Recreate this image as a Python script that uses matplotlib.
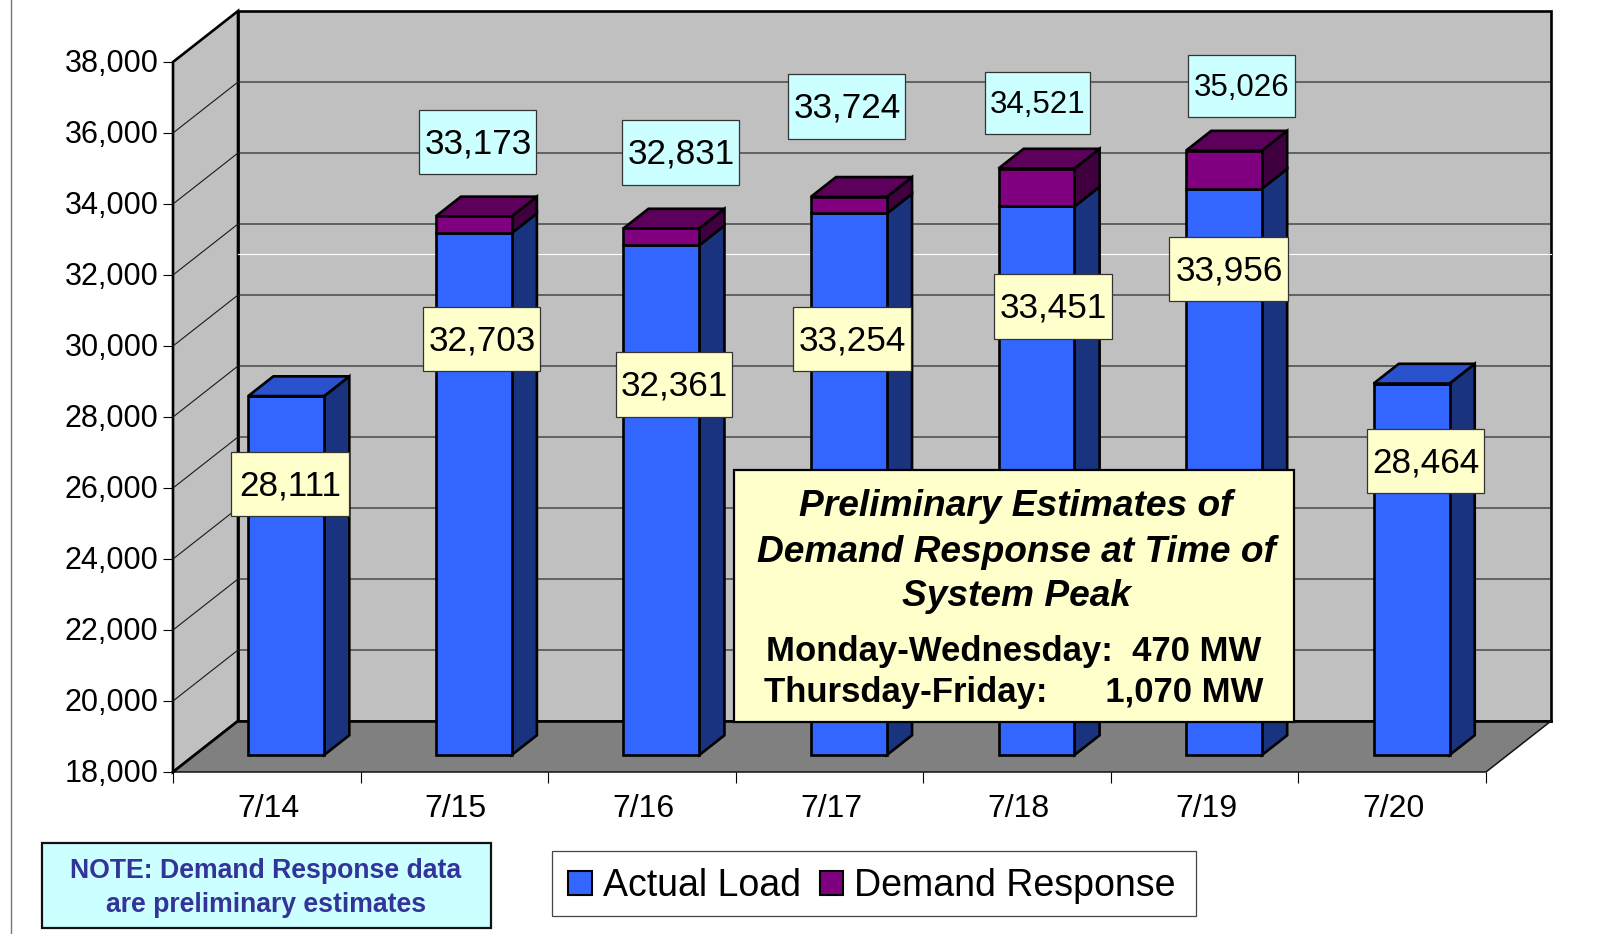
import numpy as np
import matplotlib
matplotlib.use("Agg")
import matplotlib.pyplot as plt
from matplotlib.patches import Rectangle, Patch
from matplotlib.transforms import ScaledTranslation

plt.rcParams['font.family'] = ['Liberation Sans', 'DejaVu Sans']

# data
days = ["7/14", "7/15", "7/16", "7/17", "7/18", "7/19", "7/20"]
actual_load = [28111, 32703, 32361, 33254, 33451, 33956, 28464]
demand_response = [0, 470, 470, 470, 1070, 1070, 0]
y_ticks = list(range(18000, 38001, 2000))
white_line = 31150

note_lines = "NOTE: Demand Response data\nare preliminary estimates"
box_title = ["Preliminary Estimates of", "Demand Response at Time of", "System Peak"]
box_rows = ["Monday-Wednesday:  470 MW", "Thursday-Friday:      1,070 MW"]

# layout, pixels of the full picture
W, H = 1617, 934
left, right, top, bottom = 173, 1486, 62, 772
depth_px = (65, 51)

# label boxes: x0, x1, y0, y1, font size
load_boxes = [(231, 349, 452, 516, 25.3), (423, 540, 307, 371, 25.3), (616, 732, 352, 417, 25.3),
              (793, 911, 307, 371, 25.3), (994, 1112, 274, 339, 25.3), (1169, 1288, 237, 301, 25.3),
              (1367, 1484, 429, 493, 25.3)]
total_boxes = {1: (419, 536, 110, 174, 25.3), 2: (622, 739, 120, 185, 25.3), 3: (788, 905, 74, 139, 25.3),
               4: (985, 1090, 72, 134, 22.5), 5: (1188, 1295, 55, 117, 22.5)}

fig = plt.figure(figsize=(W / 100, H / 100), dpi=100)
ax = fig.add_axes([left / W, 1 - bottom / H, (right - left) / W, (bottom - top) / H])
ax.set_xlim(-0.5, 6.5)
ax.set_ylim(18000, 38000)
for s in ax.spines.values():
    s.set_visible(False)
ax.patch.set_visible(False)

# depth of the box in data units
DX = depth_px[0] / ((right - left) / 7)
DY = depth_px[1] / ((bottom - top) / 20000)
x0, x1, y0, y1 = -0.5, 6.5, 18000, 38000
thick = 1.9
thin = 0.8

# walls and floor
ax.fill([x0 + DX, x1 + DX, x1 + DX, x0 + DX], [y0 + DY, y0 + DY, y1 + DY, y1 + DY],
        fc="#c0c0c0", ec="black", lw=thick, clip_on=False, zorder=1)
ax.fill([x0, x0 + DX, x0 + DX, x0], [y0, y0 + DY, y1 + DY, y1],
        fc="#c0c0c0", ec="black", lw=thick, clip_on=False, zorder=1)
ax.fill([x0, x1, x1 + DX, x0 + DX], [y0, y0, y0 + DY, y0 + DY],
        fc="#808080", ec="none", clip_on=False, zorder=1)
ax.plot([x0 + DX, x1 + DX], [y0 + DY, y0 + DY], color="black", lw=thick, clip_on=False, zorder=2)
ax.plot([x0, x1, x1 + DX], [y0, y0, y0 + DY], color="#111111", lw=1.1, clip_on=False, zorder=2)
ax.plot([x0, x0 + DX], [y0, y0 + DY], color="black", lw=thick, clip_on=False, zorder=2)

# grid on the side wall and back wall
for v in y_ticks[1:-1]:
    ax.plot([x0, x0 + DX, x1 + DX], [v, v + DY, v + DY], color="#1a1a1a", lw=thin,
            clip_on=False, zorder=2)
ax.plot([x0 + DX, x1 + DX], [white_line + DY, white_line + DY], color="white", lw=thin,
        clip_on=False, zorder=2)

# bars
xpos = np.arange(len(days))
z_front, z_back = 1 / 3, 0.72
shift = -0.012
width = 0.405
dz = z_back - z_front
bar_dx = DX * dz
bar_dy = DY * dz
base = y0 + DY * z_front
xf = xpos + DX * z_front + shift
load_tops = np.array(actual_load) + DY * z_front
totals = np.array(actual_load) + np.array(demand_response)
total_tops = totals + DY * z_front

load_bars = ax.bar(xf, np.array(actual_load) - y0, width, bottom=base, color="#3366ff",
                   edgecolor="black", linewidth=thick, clip_on=False, zorder=4)
dr_bars = ax.bar(xf, demand_response, width, bottom=load_tops, color="#800080",
                 edgecolor="black", linewidth=thick, clip_on=False, zorder=4)

for i in range(len(days)):
    r = xf[i] + width / 2
    l = xf[i] - width / 2
    # side of the load part
    ax.fill([r, r + bar_dx, r + bar_dx, r], [base, base + bar_dy, load_tops[i] + bar_dy, load_tops[i]],
            fc="#1a337f", ec="black", lw=thick, clip_on=False, zorder=3)
    if demand_response[i] > 0:
        ax.fill([r, r + bar_dx, r + bar_dx, r],
                [load_tops[i], load_tops[i] + bar_dy, total_tops[i] + bar_dy, total_tops[i]],
                fc="#400040", ec="black", lw=thick, clip_on=False, zorder=3)
        top_col = "#5c005c"
    else:
        top_col = "#2952cc"
    ax.fill([l, r, r + bar_dx, l + bar_dx],
            [total_tops[i], total_tops[i], total_tops[i] + bar_dy, total_tops[i] + bar_dy],
            fc=top_col, ec="black", lw=thick, clip_on=False, zorder=3)

# axes ticks
ax.set_yticks(y_ticks)
ax.set_yticklabels([f"{v:,}" for v in y_ticks], fontsize=22)
ax.tick_params(axis="y", length=7.5, width=0.8, pad=3)
for lab in ax.get_yticklabels():
    lab.set_transform(lab.get_transform() + ScaledTranslation(0, 1.5 / 100, fig.dpi_scale_trans))
ax.set_xticks(np.arange(-0.5, 7, 1))
ax.set_xticklabels([])
ax.tick_params(axis="x", which="major", length=8, width=0.8)
ax.set_xticks(xpos, minor=True)
ax.set_xticklabels(days, minor=True, fontsize=23)
ax.tick_params(axis="x", which="minor", length=0, pad=16)
for lab in ax.get_xticklabels(minor=True):
    lab.set_transform(lab.get_transform() + ScaledTranslation(1.5 / 100, 0, fig.dpi_scale_trans))

# overlay in picture pixels for the hand placed boxes
page = fig.add_axes([0, 0, 1, 1], zorder=5)
page.set_xlim(0, W)
page.set_ylim(H, 0)
page.axis("off")

page.plot([10.5, 10.5], [0, H], color="#777777", lw=1)


def label_box(box, text, fc):
    bx0, bx1, by0, by1, size = box
    page.add_patch(Rectangle((bx0, by0), bx1 - bx0, by1 - by0, fc=fc, ec="#333333", lw=0.9))
    page.text((bx0 + bx1) / 2 + 0.5, (by0 + by1) / 2 - 1.5, text, ha="center", va="center_baseline", fontsize=size)


for i, b in enumerate(load_boxes):
    label_box(b, f"{actual_load[i]:,}", "#ffffcc")
for i, b in total_boxes.items():
    label_box(b, f"{totals[i]:,}", "#ccffff")

# info box
page.add_patch(Rectangle((734, 470), 560, 252, fc="#ffffcc", ec="black", lw=1.6))
for line, yy in zip(box_title, [502, 548, 592]):
    page.text(1016, yy, line, ha="center", va="center_baseline", fontsize=26.7,
              fontweight="bold", fontstyle="italic")
for line, yy in zip(box_rows, [648, 689]):
    page.text(1014, yy, line, ha="center", va="center_baseline", fontsize=25, fontweight="bold")

# note box
page.add_patch(Rectangle((42, 843), 449, 85, fc="#ccffff", ec="#111111", lw=1.6))
page.text(266, 888, note_lines, ha="center", va="center", fontsize=19.2, fontweight="bold",
          color="#333399", linespacing=1.38)

# legend
page.add_patch(Rectangle((552, 851), 644, 65, fc="white", ec="#444444", lw=0.9))
handles = [Patch(fc="#3366ff", ec="black", lw=1.5), Patch(fc="#800080", ec="black", lw=1.5)]
page.legend(handles, ["Actual Load", "Demand Response"], loc="center",
            bbox_to_anchor=(872 / W, 1 - 886 / H), bbox_transform=fig.transFigure,
            ncol=2, frameon=False, fontsize=27, handlelength=0.62, handleheight=0.62,
            handletextpad=0.3, columnspacing=0.5, borderpad=0)

fig.savefig("out.png", dpi=100)
